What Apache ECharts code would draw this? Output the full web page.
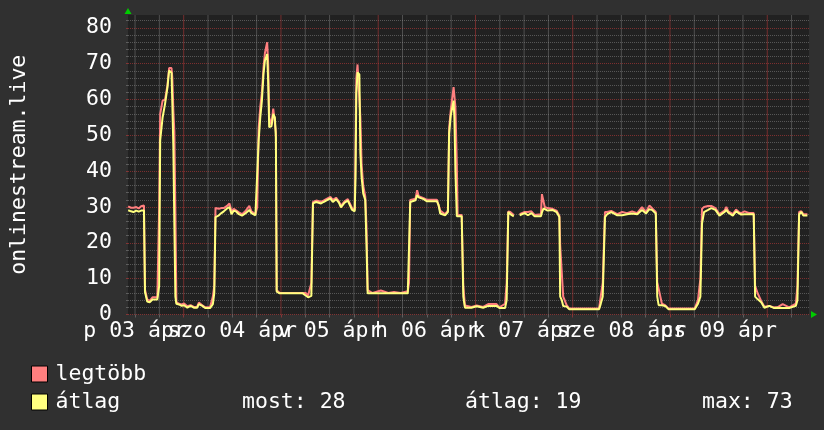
<!DOCTYPE html>
<html><head><meta charset="utf-8">
<script src="https://cdn.jsdelivr.net/npm/echarts@6/dist/echarts.min.js"></script>
<style>html,body{margin:0;padding:0;background:#303030;}#c{width:824px;height:430px;}</style>
</head><body><div id="c"></div>
<script>
// time axis: hours since 2026-04-03 00:00
const hours = [
 10.3,11.0,11.6,12.3,12.9,13.5,14.2,
 14.45,15.0,15.6,16.3,17.5,17.95,
 18.2,18.8,19.4,20.0,20.4,21.0,21.2,21.45,21.7,21.95,
 22.2,22.85,23.5,24.1,24.9,25.7,26.5,27.3,27.75,28.6,29.3,30.5,31.2,31.55,
 31.85,32.7,33.3,33.9,34.7,35.3,35.8,36.35,37.0,37.6,38.4,39.2,40.2,40.7,41.7,42.15,
 42.5,42.9,43.3,43.7,44.05,44.6,44.85,45.1,45.65,46.1,46.5,46.75,46.95,
 47.7,50.5,53.4,54.1,54.7,55.5,
 55.9,56.7,57.9,58.5,59.15,60.2,60.8,61.6,62.3,62.8,63.7,64.5,65.5,66.2,
 66.4,66.6,66.9,67.35,67.6,67.9,68.3,68.8,69.1,69.4,
 70.6,72.65,74.5,75.9,77.5,79.3,79.6,
 79.9,81.2,81.6,82.0,83.2,84.05,86.5,86.9,87.3,88.5,89.2,
 89.5,89.9,90.6,90.8,91.05,91.4,91.6,92.6,
 93.0,93.4,95.0,96.3,97.9,99.15,101.2,101.9,103.3,103.7,
 104.1,104.6,105.45,106.1,106.9,108.15,108.95,109.8,110.6,
 112.15,112.4,112.8,113.1,113.8,115.0,116.0,116.7,
 116.9,117.3,117.65,118.5,119.1,126.5,126.9,127.4,
 127.95,128.5,129.5,131.0,132.2,133.4,134.65,135.9,137.1,138.1,138.9,139.55,140.5,
 140.85,141.2,142.0,142.8,143.6,150.1,150.9,151.5,
 151.9,152.4,153.4,154.2,154.6,155.2,156.2,157.45,157.9,158.4,159.5,160.3,160.97,161.55,162.4,163.6,164.66,
 165.0,165.6,166.5,167.3,168.5,169.7,170.5,171.8,173.4,175.05,175.45,
 175.86,176.4,176.9,177.9
];
// "legtöbb" (max)
const maxVals = [
 30.2,29.8,29.8,30.0,29.6,30.2,30.4,
 7.0,4.2,3.8,4.8,4.8,30,
 56,59.7,60,64,68.8,68.8,66,57,51,29,
 3.5,3.0,2.8,3.1,2.3,2.6,2.1,2.1,3.3,2.6,2.0,2.0,5.0,8.0,
 29.7,29.5,29.7,29.7,30.3,31.0,28.8,29.5,29.0,28.5,28.0,28.8,30.3,28.8,28.0,30.0,
 52,58,62,69,73,76,70,55,53,57.5,57.5,51,6.8,
 6.0,6.0,6.0,6.0,5.3,8.8,
 31.4,31.8,31.5,31.8,32.2,32.8,32.0,32.6,31.6,30.3,31.6,32.2,29.8,29.2,
 45,66,69.8,69.8,55,42,36,33,25,6.8,
 6.0,6.7,6.0,6.3,6.0,6.5,8.8,
 32.0,32.3,34.7,33.0,32.5,32.0,32.0,31.8,29.0,28.0,29.0,
 52,57,63.5,63.5,58,42,27.8,27.8,
 8.0,2.5,2.1,2.5,2.1,2.9,2.9,2.0,3.0,8.8,
 28.8,28.6,27.8,null,28.0,28.6,28.6,28.8,27.8,
 28.0,33.6,33.6,30.0,29.7,29.5,29.0,27.6,
 19.4,19.4,5.0,2.6,1.7,1.7,5.0,8.8,
 28.6,28.6,28.9,28.0,28.6,28.3,28.8,28.3,30.0,28.6,30.4,29.7,28.6,
 9.0,8.8,3.0,2.6,1.7,1.7,4.0,10,
 29.5,30.0,30.3,30.3,30.6,29.7,28.0,29.0,30.0,28.8,28.0,29.3,28.6,28.3,28.8,28.3,28.3,
 8.0,6.0,3.8,2.2,2.4,2.0,2.0,2.9,2.0,3.0,8.0,
 28.6,28.8,28.0,28.0
];
// "átlag" (average)
const avgVals = [
 29.1,28.8,28.6,29.0,28.7,29.0,29.0,
 6.3,3.6,3.4,4.2,4.2,8,
 48.6,55,58.8,63.4,68.1,67.5,59,46.7,25,5,
 3,2.8,2.4,2.6,1.9,2.4,1.9,1.9,2.9,2.4,1.8,1.8,2.9,6.0,
 27.2,27.7,28.3,28.8,29.6,30.0,28.0,29.0,28.7,28.0,27.6,28.2,29.2,28.3,27.7,27.9,
 48.6,55,59.7,67.2,70.9,72.7,65,52.3,52.5,56,55,49.5,6.4,
 5.9,5.9,5.9,5.3,4.8,5.2,
 31.0,31.4,31.0,31.4,31.8,32.4,31.4,32.2,31.2,29.9,31.2,31.8,29.3,28.8,
 38.4,61.6,67.6,67.0,45,38.4,33.8,32.0,20,5.9,
 5.9,5.9,5.9,5.9,5.9,5.9,6.0,
 31.4,31.9,33.3,32.7,32.2,31.6,31.6,30.5,28.2,27.7,28.6,
 50.5,55.5,59.7,55,40,27.4,27.4,27.4,
 5.0,1.9,1.9,2.3,1.9,2.4,2.4,1.8,1.8,4.0,
 28.6,28.0,27.4,null,27.7,28.3,27.7,28.3,27.4,
 27.4,28.5,29.6,29.5,29.0,29.2,28.6,27.2,
 5.0,4.0,2.4,2.2,1.5,1.5,2.9,5.0,
 27.2,28.0,28.6,27.7,27.7,28.0,28.2,28.0,29.2,28.2,29.4,29.2,28.2,
 5.0,2.6,2.6,2.4,1.5,1.5,3.0,5.0,
 25.4,28.6,29.2,29.7,30.1,29.2,27.6,28.6,29.2,28.4,27.6,28.8,28.3,27.9,28.0,28.0,28.0,
 5.0,4.3,3.4,1.9,2.4,1.8,1.9,1.8,1.8,2.4,4.0,
 28.0,28.6,27.6,27.6
];
const seriesNames = ['legtöbb', 'átlag'];
const dayLabels = ['p 03 ápr', 'szo 04 ápr', 'v 05 ápr', 'h 06 ápr', 'k 07 ápr', 'sze 08 ápr', 'cs 09 ápr'];
const labelHours = [12, 36, 60, 84, 108, 132, 156];
const midnightHours = [24, 48, 72, 96, 120, 144, 168];
const minorHours = [12, 18, 30, 36, 42, 54, 60, 66, 78, 84, 90, 102, 108, 114, 126, 132, 138, 150, 156, 162, 174];
const yMajor = [0, 10, 20, 30, 40, 50, 60, 70, 80];
const yMinor = [2, 4, 6, 8, 12, 14, 16, 18, 22, 24, 26, 28, 32, 34, 36, 38, 42, 44, 46, 48, 52, 54, 56, 58, 62, 64, 66, 68, 72, 74, 76, 78, 82];
const yTitle = 'onlinestream.live';
const statLabels = ['most', 'átlag', 'max'];
const statValues = [28, 19, 73];

// ---- layout / style ----
const X_MIN = 10.26, X_MAX = 178.3, Y_MAX = 83.6;
const FONT = 'DejaVu Sans Mono';
const FS = 21.5;
const GREY = 'rgba(150,150,150,0.45)';
const RED = 'rgba(200,60,60,0.55)';
const GREY_V = 'rgba(150,150,150,0.40)';
const RED_V = 'rgba(200,60,60,0.50)';
const ARROW = '#00cc00';
const statX = [242, 465, 702];

const chart = echarts.init(document.getElementById('c'), null, {renderer: 'canvas'});
const mk = vals => hours.map((h, i) => [h, vals[i]]);
const labelsA = labelHours.filter((h, i) => i % 2 === 0);
const labelsB = labelHours.filter((h, i) => i % 2 === 1);
const fmt = v => dayLabels[labelHours.indexOf(v)];
const vGrid = list => list.flatMap(h => [[h, 0], [h, Y_MAX], [h, null]]);
const labelStyle = (vals) => ({show: true, customValues: vals, formatter: fmt, color: '#ffffff', fontSize: FS, fontFamily: FONT, margin: 6, hideOverlap: false, showMinLabel: true, showMaxLabel: true});
const option = {
  backgroundColor: '#303030',
  animation: false,
  textStyle: {fontFamily: FONT},
  grid: {left: 124, right: 15, top: 15, bottom: 115.5, show: true, backgroundColor: '#212121', borderWidth: 0},
  xAxis: [
    {type: 'value', min: X_MIN, max: X_MAX, position: 'bottom',
     axisLine: {show: true, symbol: ['none', 'triangle'], symbolSize: [7, 6], symbolOffset: [0, 5], lineStyle: {color: ARROW, width: 0}},
     axisTick: {show: true, length: 3, customValues: minorHours, lineStyle: {color: GREY}},
     splitLine: {show: false},
     axisLabel: labelStyle(labelsA)
    },
    {type: 'value', min: X_MIN, max: X_MAX, position: 'bottom',
     axisLine: {show: false},
     axisTick: {show: true, length: 3, customValues: midnightHours, lineStyle: {color: RED}},
     splitLine: {show: false},
     axisLabel: labelStyle(labelsB)
    }
  ],
  yAxis: [
    {type: 'value', min: 0, max: Y_MAX, position: 'left',
     axisLine: {show: false},
     axisTick: {show: true, length: 2, customValues: yMinor, lineStyle: {color: GREY}},
     splitLine: {show: true, lineStyle: {color: GREY, type: [1, 1], width: 1}},
     axisLabel: {show: false}
    },
    {type: 'value', min: 0, max: Y_MAX, position: 'left',
     name: yTitle, nameLocation: 'middle', nameRotate: 90, nameGap: 98,
     nameTextStyle: {color: '#ffffff', fontSize: FS, fontFamily: FONT},
     axisLine: {show: true, symbol: ['none', 'triangle'], symbolSize: [7, 6], symbolOffset: [0, 4], lineStyle: {color: ARROW, width: 0}},
     axisTick: {show: true, length: 2, customValues: yMajor, lineStyle: {color: RED}},
     splitLine: {show: true, lineStyle: {color: RED, type: [1, 1], width: 1}},
     axisLabel: {show: true, customValues: yMajor, color: '#ffffff', fontSize: FS, fontFamily: FONT, margin: 16}
    }
  ],
  legend: {
    orient: 'vertical', left: 31, top: 363, padding: 0, itemWidth: 16, itemHeight: 16, itemGap: 6,
    icon: 'rect', selectedMode: false, data: seriesNames,
    itemStyle: {borderColor: '#000000', borderWidth: 1},
    textStyle: {color: '#ffffff', fontSize: FS, fontFamily: FONT, padding: [0, 0, 0, 3]}
  },
  graphic: statLabels.map((l, i) => ({
    type: 'text', left: statX[i], top: 391,
    style: {text: l + ': ' + statValues[i], fill: '#ffffff', font: FS + 'px "' + FONT + '"'}
  })),
  series: [
    {name: 'grid-minor', type: 'line', data: vGrid(minorHours), silent: true, z: 2, clip: false, showSymbol: false, symbol: 'none', connectNulls: false,
     lineStyle: {color: GREY_V, width: 1}, emphasis: {disabled: true}, tooltip: {show: false}},
    {name: 'grid-major', type: 'line', data: vGrid(midnightHours), silent: true, z: 2, clip: false, showSymbol: false, symbol: 'none', connectNulls: false,
     lineStyle: {color: RED_V, width: 1}, emphasis: {disabled: true}, tooltip: {show: false}},
    {name: seriesNames[0], type: 'line', data: mk(maxVals), showSymbol: false, symbol: 'none', connectNulls: false,
     lineStyle: {color: '#ff7f7f', width: 2}, itemStyle: {color: '#ff7f7f'}, z: 3},
    {name: seriesNames[1], type: 'line', data: mk(avgVals), showSymbol: false, symbol: 'none', connectNulls: false,
     lineStyle: {color: '#ffff7f', width: 2}, itemStyle: {color: '#ffff7f'}, z: 4}
  ]
};
chart.setOption(option);
if (hours.length !== maxVals.length || hours.length !== avgVals.length) console.error('length mismatch', hours.length, maxVals.length, avgVals.length);
</script>
</body></html>
